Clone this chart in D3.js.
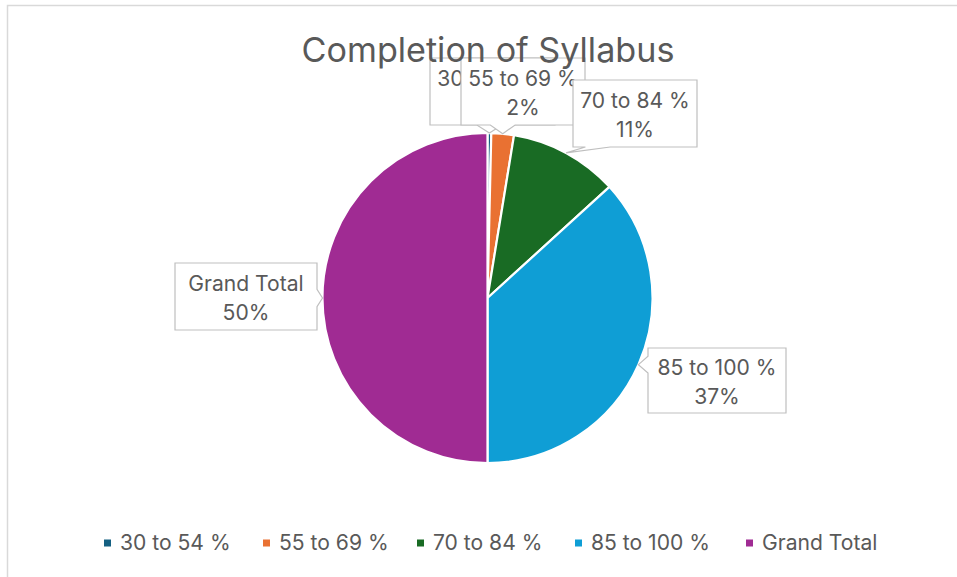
<!DOCTYPE html>
<html>
<head>
<meta charset="utf-8">
<script src="https://cdn.jsdelivr.net/npm/d3@7"></script>
<style>
  html, body { margin: 0; padding: 0; background: #fff; }
  svg { display: block; }
  text { font-family: "Inter", "Open Sans", sans-serif; fill: #595959; }
</style>
</head>
<body>
<script>
// ---- data ----
const categories = ["30 to 54 %", "55 to 69 %", "70 to 84 %", "85 to 100 %", "Grand Total"];
const values = [1, 6, 29, 100, 136];
const colors = ["#156082", "#E97132", "#196B24", "#0F9ED5", "#A02B93"];
const title = "Completion of Syllabus";

// ---- layout ----
const W = 957, H = 577;
const cx = 487.5, cy = 298, R = 165;
// callout boxes [x0, y0, x1, y1]
const calloutBoxes = {
  "30 to 54 %": [430, 58, 555, 125],
  "55 to 69 %": [461, 58, 585, 125],
  "70 to 84 %": [573, 80, 697, 147],
  "85 to 100 %": [648, 348, 786, 413],
  "Grand Total": [175, 263, 317, 330]
};
const legendSquareX = [104, 263, 417, 575, 746];

const svg = d3.select("body").append("svg").attr("width", W).attr("height", H);
svg.append("rect").attr("width", W).attr("height", H).attr("fill", "#fff");
svg.append("rect").attr("x", 7.5).attr("y", 5.5).attr("width", W + 20).attr("height", H + 20)
  .attr("fill", "none").attr("stroke", "#D9D9D9").attr("stroke-width", 1.5);

// font sizing by measurement
function measure(str, size) {
  const t = svg.append("text").attr("font-size", size).text(str);
  const w = t.node().getComputedTextLength();
  t.remove();
  return w;
}
const smallSize = 20 * 119 / measure("85 to 100 %", 20);
const titleSize = 34 * 373 / measure(title, 34);

const total = d3.sum(values);
const data = categories.map((c, i) => ({ cat: c, value: values[i], color: colors[i] }));
const pie = d3.pie().value(d => d.value).sort(null);
const arcs = pie(data);
const arc = d3.arc().innerRadius(0).outerRadius(R);

const g = svg.append("g").attr("transform", `translate(${cx},${cy})`);
g.selectAll("path.slice").data(arcs).join("path")
  .attr("class", "slice")
  .attr("d", arc)
  .attr("fill", d => d.data.color)
  .attr("stroke", "#fff").attr("stroke-width", 2.2).attr("stroke-linejoin", "round");

const pct = d3.format(".0%");

// callouts
function calloutPath(b, tx, ty) {
  const [x0, y0, x1, y1] = b;
  const w = x1 - x0, h = y1 - y0;
  const clamp = (v, a, c) => Math.max(a, Math.min(c, v));
  let p;
  if (ty > y1) {
    const c = clamp(tx, x0 + 0.2 * w, x1 - 0.2 * w), hw = 0.1 * w;
    p = [[x0, y0], [x1, y0], [x1, y1], [c + hw, y1], [tx, ty], [c - hw, y1], [x0, y1]];
  } else if (tx < x0) {
    const c = clamp(ty, y0 + 0.25 * h, y1 - 0.25 * h), hh = 0.13 * h;
    p = [[x0, y0], [x1, y0], [x1, y1], [x0, y1], [x0, c + hh], [tx, ty], [x0, c - hh]];
  } else if (tx > x1) {
    const c = clamp(ty, y0 + 0.25 * h, y1 - 0.25 * h), hh = 0.13 * h;
    p = [[x0, y0], [x1, y0], [x1, c - hh], [tx, ty], [x1, c + hh], [x1, y1], [x0, y1]];
  } else {
    p = [[x0, y0], [x1, y0], [x1, y1], [x0, y1]];
  }
  return "M" + p.map(q => q.join(",")).join("L") + "Z";
}

const labelLayer = svg.append("g");
arcs.forEach(a => {
  const b = calloutBoxes[a.data.cat];
  const mid = (a.startAngle + a.endAngle) / 2;
  const tx = cx + R * Math.sin(mid), ty = cy - R * Math.cos(mid);
  const lg = labelLayer.append("g");
  lg.append("path").attr("d", calloutPath(b, tx, ty))
    .attr("fill", "#fff").attr("stroke", "#BFBFBF").attr("stroke-width", 1.2);
  const mx = (b[0] + b[2]) / 2, my = (b[1] + b[3]) / 2;
  lg.append("text").attr("x", mx).attr("y", my - 13).attr("dy", "0.35em")
    .attr("text-anchor", "middle").attr("font-size", smallSize).text(a.data.cat);
  lg.append("text").attr("x", mx).attr("y", my + 16.5).attr("dy", "0.35em")
    .attr("text-anchor", "middle").attr("font-size", smallSize).text(pct(a.data.value / total));
});

// title
svg.append("text").attr("x", 488).attr("y", 62).attr("text-anchor", "middle")
  .attr("font-size", titleSize).text(title);

// legend
const sq = 7, legendY = 543;
const leg = svg.append("g");
categories.forEach((c, i) => {
  const x = legendSquareX[i];
  leg.append("rect").attr("x", x).attr("y", legendY - sq / 2).attr("width", sq).attr("height", sq)
    .attr("fill", colors[i]);
  leg.append("text").attr("x", x + sq + 9).attr("y", legendY).attr("dy", "0.35em")
    .attr("font-size", smallSize).text(c);
});
</script>
</body>
</html>
